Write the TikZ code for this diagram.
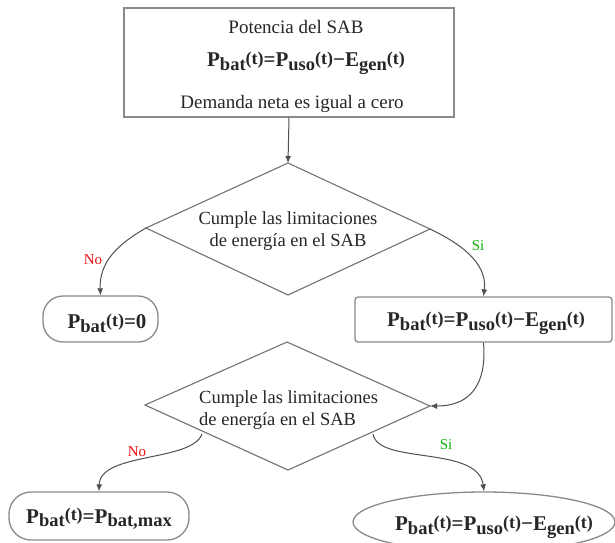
\documentclass[tikz,border=0pt]{standalone}
\usepackage{fontspec}
\setmainfont{Liberation Serif}
\usetikzlibrary{arrows.meta,shapes.geometric}
\definecolor{boxgray}{HTML}{8A8A8A}
\definecolor{linegray}{HTML}{505050}
\definecolor{nored}{HTML}{F01010}
\definecolor{sigreen}{HTML}{10B010}
\newcommand{\sbb}[1]{\raisebox{-0.4ex}{\fontsize{18.5}{18}\selectfont\bfseries #1}}
\newcommand{\argt}{\raisebox{0.25ex}{\fontsize{18}{18}\selectfont\bfseries (t)}}
\newcommand{\eqfull}{{\fontsize{21}{23}\selectfont\bfseries P\sbb{bat}\argt{}=P\sbb{uso}\argt{}−E\sbb{gen}\argt{}}}
\begin{document}
\begin{tikzpicture}[x=1pt,y=-1pt,
  every node/.style={font=\fontsize{19}{21}\selectfont, text=black!85},
  boxline/.style={draw=boxgray, line width=1.3pt},
  conn/.style={draw=linegray, line width=1pt, -{Latex[length=7pt,width=6pt]}},
  nolab/.style={text=nored, font=\fontsize{15}{17}\selectfont},
  silab/.style={text=sigreen, font=\fontsize{15}{17}\selectfont}]
\useasboundingbox (0,0) rectangle (615,542);
\fill[white] (0,0) rectangle (615,542);
\clip (0,0) rectangle (615,542);

% top box
\node[boxline, rectangle, minimum width=330pt, minimum height=109pt, inner sep=0pt] (top) at (289,62.5) {};
\node (t1) at (296,27) {Potencia del SAB};
\node (t2) at (306,63) {\eqfull};
\node (t3) at (292,104) {Demanda neta es igual a cero};

% diamond 1
\coordinate (d1n) at (288,163);
\coordinate (d1w) at (146,228);
\coordinate (d1e) at (430,229);
\coordinate (d1s) at (288,295);
\draw[boxline, draw=linegray!80, line width=1.1pt] (d1n) -- (d1e) -- (d1s) -- (d1w) -- cycle;
\node[align=center, inner sep=0pt, font=\fontsize{18.5}{21}\selectfont] (d1t) at (288,231) {Cumple las limitaciones\\[1pt] de energía en el SAB};

% boxes row 2
\node[boxline, rounded corners=20pt, minimum width=115pt, minimum height=46pt, inner sep=0pt] (nobox) at (100.5,319) {};
\node (nobt) at (107,323) {{\fontsize{21}{23}\selectfont\bfseries P\sbb{bat}\argt{}=0}};
\node[boxline, rounded corners=3pt, minimum width=257pt, minimum height=45pt, inner sep=0pt] (sibox) at (483.5,319.5) {};
\node (sibt) at (486,323) {\eqfull};

% diamond 2
\coordinate (d2n) at (287,342);
\coordinate (d2w) at (145,405);
\coordinate (d2e) at (430,406);
\coordinate (d2s) at (288,470);
\coordinate (d2sw) at (202,434);
\coordinate (d2se) at (373,434);
\draw[boxline, draw=linegray!80, line width=1.1pt] (d2n) -- (d2e) -- (d2s) -- (d2w) -- cycle;
\node[align=left, inner sep=0pt, anchor=west, font=\fontsize{18.5}{21}\selectfont] (d2t) at (199,410) {Cumple las limitaciones\\[1pt] de energía en el SAB};

% bottom boxes
\node[boxline, rounded corners=22pt, minimum width=180pt, minimum height=48pt, inner sep=0pt] (maxbox) at (99,516) {};
\node (maxt) at (99,519) {{\fontsize{21}{23}\selectfont\bfseries P\sbb{bat}\argt{}=P\sbb{bat,max}}};
\node[boxline, ellipse, minimum width=262pt, minimum height=60pt, inner sep=0pt] (endbox) at (484,522) {};
\node (endt) at (494,527) {\eqfull};

% connectors
\draw[conn] (top.south) -- (d1n);
\draw[conn] (d1w) .. controls (118,244) and (99,262) .. (nobox.north);
\node[nolab] (no1) at (93,260) {No};
\draw[conn] (d1e) .. controls (470,248) and (487,268) .. (sibox.north);
\node[silab] (si1) at (478,246) {Si};
\draw[conn] (sibox.south) .. controls (487,385) and (470,406) .. (d2e);
\draw[conn] (d2sw) .. controls (192,462) and (100,452) .. (maxbox.north);
\node[nolab] (no2) at (137,452) {No};
\draw[conn] (d2se) .. controls (378,465) and (478,445) .. (endbox.north);
\node[silab] (si2) at (446,445) {Si};
\end{tikzpicture}
\end{document}
